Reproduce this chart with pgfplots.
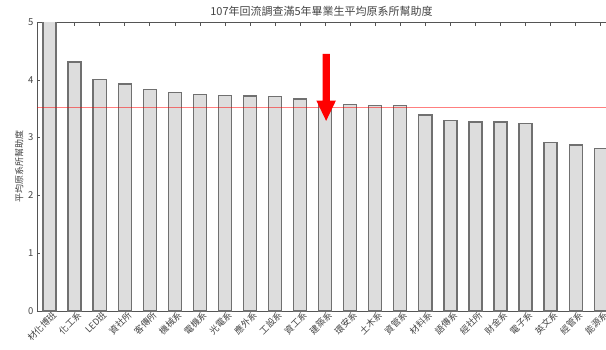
\documentclass[border=0pt]{standalone}
\usepackage{pgfplots}
\pgfplotsset{compat=1.18}
\usepackage{fontspec}
\setmainfont{Noto Sans CJK TC}
\definecolor{barfill}{HTML}{DDDDDD}
\definecolor{baredge}{HTML}{707070}
\definecolor{axgray}{HTML}{555555}
\definecolor{txtgray}{HTML}{444444}
\begin{document}
\begin{tikzpicture}
\begin{axis}[
  scale only axis,
  width=569pt, height=289pt,
  xmin=-0.5, xmax=22.21,
  ymin=0, ymax=5,
  axis x line*=box,
  axis y line*=left,
  y axis line style={-},
  axis line style={axgray, line width=0.9pt},
  ytick={0,1,2,3,4,5},
  xtick={0,...,22},
  xticklabels={材化博班,化工系,LED班,資社所,客傳所,機械系,電機系,光電系,應外系,工設系,資工系,建築系,環安系,土木系,資管系,材料系,語傳系,經社所,財金系,電子系,英文系,經管系,能源系},
  x tick label style={rotate=45, anchor=north east, font=\fontsize{9}{9}\selectfont, text=txtgray, inner sep=1pt, xshift=3pt},
  y tick label style={font=\fontsize{9.5}{10}\selectfont, text=txtgray},
  /pgf/number format/assume math mode=true,
  tick align=inside,
  major tick length=3.5pt,
  tick style={axgray, line width=0.6pt},
  title={107年回流調查滿5年畢業生平均原系所幫助度},
  title style={font=\fontsize{11}{12}\selectfont, text=txtgray, yshift=-4pt},
  ylabel={平均原系所幫助度},
  ylabel style={font=\fontsize{9}{10}\selectfont, text=txtgray, yshift=-2pt},
  clip=true,
]
\addplot[ybar, bar width=0.52, fill=barfill, draw=baredge, line width=1.3pt]
coordinates {
(0,5.5) (1,4.31) (2,4.01) (3,3.93) (4,3.83) (5,3.78) (6,3.75) (7,3.73)
(8,3.72) (9,3.71) (10,3.67) (11,3.60) (12,3.57) (13,3.55) (14,3.55)
(15,3.39) (16,3.29) (17,3.27) (18,3.27) (19,3.25) (20,2.92) (21,2.87) (22,2.81)
};
\fill[red, fill opacity=0.5] (axis cs:-0.5,3.512) rectangle (axis cs:22.21,3.528);
\fill[red] (axis cs:10.895,4.45) -- (axis cs:11.185,4.45) -- (axis cs:11.185,3.64)
  -- (axis cs:11.43,3.64) -- (axis cs:11.04,3.29) -- (axis cs:10.65,3.64)
  -- (axis cs:10.895,3.64) -- cycle;
\coordinate (bl) at (rel axis cs:0,0);
\end{axis}
\pgfresetboundingbox
\path[use as bounding box] ([shift={(-37pt,-38pt)}]bl) rectangle ([shift={(569pt,311pt)}]bl);
\end{tikzpicture}
\end{document}
